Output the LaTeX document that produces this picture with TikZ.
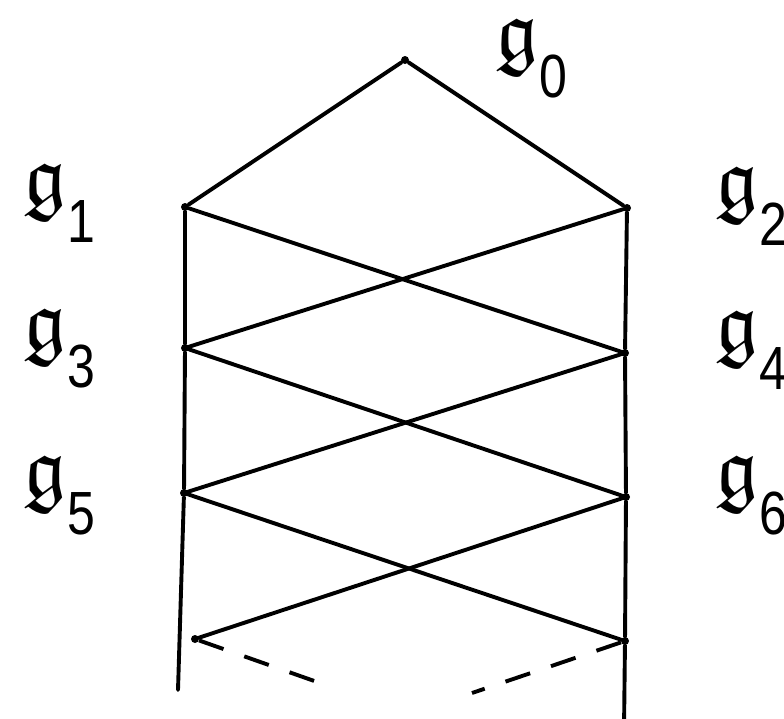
\documentclass[tikz,border=0pt]{standalone}
\usepackage{amssymb}
\usepackage{fontspec}
\setsansfont{Liberation Sans}
\tikzset{
  edge/.style={line width=3.9pt, line cap=round},
  vtx/.style={circle, fill, inner sep=0pt, minimum size=8pt},
  lbl/.style={inner sep=0pt, anchor=north west},
  dashedge/.style={edge, line cap=butt, dash pattern=on 26pt off 22pt}
}
\newcommand{\glab}[1]{{\fontsize{86}{90}\selectfont$\mathfrak{g}$}\kern1pt\raisebox{-38pt}{\scalebox{0.82}[1]{\sffamily\fontsize{61}{63}\selectfont #1}}}
\begin{document}
\begin{tikzpicture}[x=1pt,y=-1pt]
\useasboundingbox (0,0) rectangle (784,718);
\node[vtx] (n0) at (405,60) {};
\node[vtx] (n1) at (185,207) {};
\node[vtx] (n2) at (627,208) {};
\node[vtx] (n3) at (185,348) {};
\node[vtx] (n4) at (625,353) {};
\node[vtx] (n5) at (184,493) {};
\node[vtx] (n6) at (626,497) {};
\node[vtx] (n7) at (195,639) {};
\node[vtx] (n8) at (625,641) {};
\coordinate (lb) at (178,690);
\coordinate (rb) at (624,730);
\coordinate (dl) at (320,683);
\coordinate (dr) at (472,693);
% labels
\node[lbl] (l0) at (495,18) {\glab{0}};
\node[lbl] (l1) at (23,163) {\glab{1}};
\node[lbl] (l2) at (715,166) {\glab{2}};
\node[lbl] (l3) at (23,308) {\glab{3}};
\node[lbl] (l4) at (715,310) {\glab{4}};
\node[lbl] (l5) at (23,455) {\glab{5}};
\node[lbl] (l6) at (715,455) {\glab{6}};
% edges
\draw[edge] (n1) -- (n0) -- (n2);
\draw[edge] (n1) -- (n3) -- (n5) -- (lb);
\draw[edge] (n2) -- (n4) -- (n6) -- (n8) -- (rb);
\draw[edge] (n1) -- (n4);
\draw[edge] (n2) -- (n3);
\draw[edge] (n3) -- (n6);
\draw[edge] (n4) -- (n5);
\draw[edge] (n5) -- (n8);
\draw[edge] (n6) -- (n7);
\draw[dashedge] (n7) -- (dl);
\draw[dashedge] (n8) -- (dr);
\end{tikzpicture}
\end{document}
